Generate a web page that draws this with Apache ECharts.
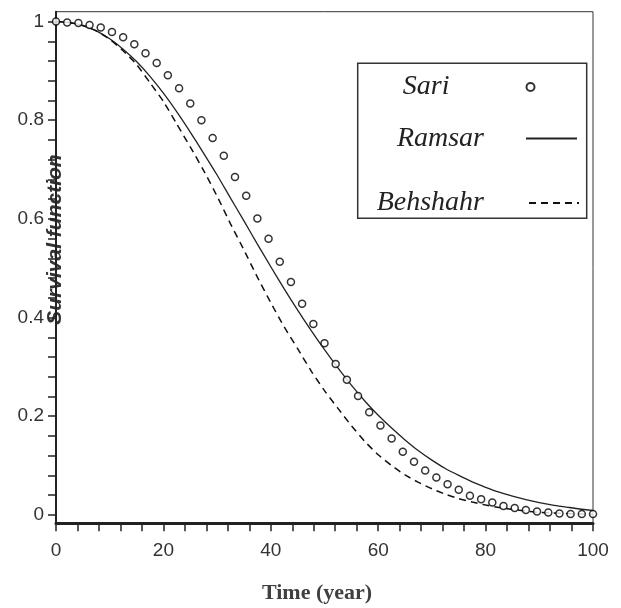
<!DOCTYPE html>
<html>
<head>
<meta charset="utf-8">
<script src="https://cdn.jsdelivr.net/npm/echarts@6/dist/echarts.min.js"></script>
<style>
html,body{margin:0;padding:0;background:#fff;}
#c{width:621px;height:608px;}
</style>
</head>
<body>
<div id="c"></div>
<script>
// ---- data ----
const sariTime = [0, 2.08, 4.17, 6.25, 8.33, 10.42, 12.5, 14.58, 16.67, 18.75, 20.83, 22.92, 25, 27.08, 29.17, 31.25, 33.33, 35.42, 37.5, 39.58, 41.67, 43.75, 45.83, 47.92, 50, 52.08, 54.17, 56.25, 58.33, 60.42, 62.5, 64.58, 66.67, 68.75, 70.83, 72.92, 75, 77.08, 79.17, 81.25, 83.33, 85.42, 87.5, 89.58, 91.67, 93.75, 95.83, 97.92, 100];
const sariSurv = [1.000, 0.998, 0.997, 0.993, 0.988, 0.979, 0.968, 0.954, 0.936, 0.916, 0.891, 0.865, 0.834, 0.800, 0.764, 0.728, 0.685, 0.647, 0.601, 0.560, 0.513, 0.472, 0.428, 0.387, 0.348, 0.306, 0.274, 0.241, 0.208, 0.181, 0.155, 0.128, 0.108, 0.090, 0.076, 0.062, 0.051, 0.039, 0.032, 0.025, 0.018, 0.014, 0.010, 0.007, 0.005, 0.003, 0.002, 0.002, 0.002];

const curveTime = [0, 2.5, 5, 7.5, 10, 12.5, 15, 17.5, 20, 22.5, 25, 27.5, 30, 32.5, 35, 37.5, 40, 42.5, 45, 47.5, 50, 52.5, 55, 57.5, 60, 62.5, 65, 67.5, 70, 72.5, 75, 77.5, 80, 82.5, 85, 87.5, 90, 92.5, 95, 97.5, 100];
const ramsarSurv = [1.000, 0.998, 0.992, 0.981, 0.965, 0.944, 0.919, 0.889, 0.855, 0.817, 0.776, 0.733, 0.689, 0.642, 0.596, 0.549, 0.503, 0.458, 0.415, 0.374, 0.335, 0.298, 0.263, 0.231, 0.202, 0.176, 0.152, 0.130, 0.111, 0.094, 0.080, 0.067, 0.056, 0.046, 0.038, 0.031, 0.025, 0.020, 0.016, 0.012, 0.009];
const behshahrSurv = [1.000, 0.998, 0.992, 0.981, 0.964, 0.941, 0.913, 0.876, 0.838, 0.792, 0.746, 0.698, 0.646, 0.590, 0.537, 0.482, 0.430, 0.381, 0.337, 0.292, 0.252, 0.216, 0.181, 0.149, 0.122, 0.100, 0.081, 0.066, 0.053, 0.042, 0.033, 0.026, 0.020, 0.015, 0.011, 0.008, 0.005, 0.004, 0.003, 0.002, 0.001];

const xTicks = [0, 4, 8, 12, 16, 20, 24, 28, 32, 36, 40, 44, 48, 52, 56, 60, 64, 68, 72, 76, 80, 84, 88, 92, 96, 100];
const yTicks = [0, 0.04, 0.08, 0.12, 0.16, 0.2, 0.24, 0.28, 0.32, 0.36, 0.4, 0.44, 0.48, 0.52, 0.56, 0.6, 0.64, 0.68, 0.72, 0.76, 0.8, 0.84, 0.88, 0.92, 0.96, 1];
const yLabels = [0, 0.2, 0.4, 0.6, 0.8, 1];

const seriesNames = ['Sari', 'Ramsar', 'Behshahr'];

// ---- chart ----
const zip = (xs, ys) => xs.map((x, i) => [x, ys[i]]);
const chart = echarts.init(document.getElementById('c'), null, {renderer: 'canvas'});
const axisFont = {fontFamily: 'Liberation Sans', fontSize: 19, color: '#333'};
const legendFont = {fontFamily: 'Liberation Serif', fontStyle: 'italic', fontSize: 28, color: '#222', lineHeight: 30};
const hiddenSymbol = {color: 'transparent', borderWidth: 0, borderColor: 'transparent'};

chart.setOption({
  animation: false,
  backgroundColor: '#fff',
  grid: {left: 56, right: 28, top: 11.7, bottom: 84.7, show: true, borderColor: '#333', borderWidth: 1,
         backgroundColor: 'transparent', containLabel: false, outerBoundsMode: 'none'},
  xAxis: {
    type: 'value', min: 0, max: 100, interval: 20,
    name: 'Time (year)', nameLocation: 'middle', nameGap: 59, nameMoveOverlap: false,
    nameTextStyle: {fontFamily: 'Liberation Serif', fontWeight: 'bold', fontSize: 22, color: '#404040', padding: [0, 15, 0, 0]},
    axisLine: {onZero: false, lineStyle: {color: '#222', width: 3}},
    axisTick: {show: true, length: 8, customValues: xTicks, lineStyle: {color: '#222', width: 1.5}},
    axisLabel: Object.assign({margin: 18}, axisFont),
    splitLine: {show: false}
  },
  yAxis: {
    type: 'value', min: -0.017, max: 1.02,
    name: 'Survival function', nameLocation: 'middle', nameGap: -10, nameMoveOverlap: false,
    nameTextStyle: {fontFamily: 'Liberation Sans', fontStyle: 'italic', fontWeight: 'bold', fontSize: 21, color: '#333', padding: [0, 0, 0, 56]},
    axisLine: {show: true, onZero: false, lineStyle: {color: '#222', width: 2}},
    axisTick: {show: true, length: 8, customValues: yTicks, lineStyle: {color: '#222', width: 1.5}},
    axisLabel: Object.assign({margin: 12, customValues: yLabels}, axisFont),
    splitLine: {show: false}
  },
  legend: [
    {data: [seriesNames[0]], orient: 'vertical', align: 'right', right: 85.5, top: 69, padding: 0,
     itemWidth: 8, itemHeight: 8, textStyle: Object.assign({padding: [0, 72, 6, 0]}, legendFont)},
    {data: [seriesNames[1]], orient: 'vertical', align: 'right', right: 43, top: 119.5, padding: 0,
     itemWidth: 51, itemHeight: 14, itemStyle: hiddenSymbol,
     textStyle: Object.assign({padding: [0, 37, 8, 0]}, legendFont)},
    {data: [seriesNames[2]], orient: 'vertical', align: 'right', right: 41, top: 178, padding: 0,
     itemWidth: 50, itemHeight: 14, itemStyle: hiddenSymbol,
     textStyle: Object.assign({padding: [0, 40, 20, 0]}, legendFont)}
  ],
  graphic: [{
    type: 'rect', z: 100, silent: true,
    shape: {x: 357.7, y: 63.3, width: 229, height: 155},
    style: {fill: 'none', stroke: '#333', lineWidth: 1.5}
  }],
  series: [
    {name: seriesNames[1], type: 'line', data: zip(curveTime, ramsarSurv), symbol: 'none', smooth: 0.2,
     lineStyle: {color: '#222', width: 1.3, type: 'solid'}, itemStyle: {color: '#222'}, z: 2},
    {name: seriesNames[2], type: 'line', data: zip(curveTime, behshahrSurv), symbol: 'none', smooth: 0.2,
     lineStyle: {color: '#111', width: 1.5, type: [7, 5]}, itemStyle: {color: '#111'}, z: 2},
    {name: seriesNames[0], type: 'scatter', data: zip(sariTime, sariSurv), symbol: 'circle', symbolSize: 7,
     itemStyle: {color: '#fff', borderColor: '#000', borderWidth: 1.5}, z: 3}
  ]
});
</script>
</body>
</html>
